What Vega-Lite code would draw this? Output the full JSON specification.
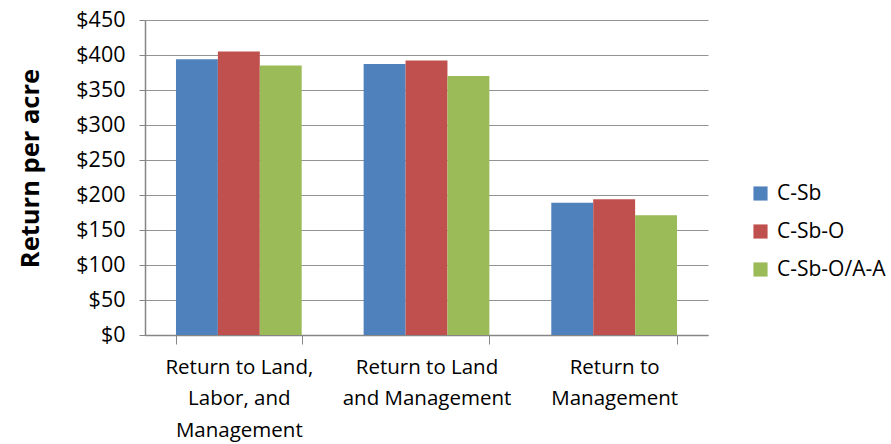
{
  "$schema": "https://vega.github.io/schema/vega-lite/v6.json",
  "width": 563,
  "height": 315,
  "autosize": {"type": "none"},
  "padding": {"left": 145, "top": 20, "right": 183, "bottom": 109},
  "background": "white",
  "data": {
    "values": [
      {"category": "Return to Land, Labor, and Management", "rotation": "C-Sb", "value": 394},
      {"category": "Return to Land, Labor, and Management", "rotation": "C-Sb-O", "value": 405},
      {"category": "Return to Land, Labor, and Management", "rotation": "C-Sb-O/A-A", "value": 385},
      {"category": "Return to Land and Management", "rotation": "C-Sb", "value": 387},
      {"category": "Return to Land and Management", "rotation": "C-Sb-O", "value": 392},
      {"category": "Return to Land and Management", "rotation": "C-Sb-O/A-A", "value": 370},
      {"category": "Return to Management", "rotation": "C-Sb", "value": 189},
      {"category": "Return to Management", "rotation": "C-Sb-O", "value": 194},
      {"category": "Return to Management", "rotation": "C-Sb-O/A-A", "value": 171}
    ]
  },
  "mark": {"type": "bar"},
  "encoding": {
    "x": {
      "field": "category",
      "type": "nominal",
      "sort": null,
      "scale": {"paddingInner": 0.33, "paddingOuter": 0.165},
      "axis": {
        "title": null,
        "labelAngle": 0,
        "labelFont": "Open Sans",
        "labelFontSize": 20.5,
        "labelColor": "black",
        "labelLineHeight": 31.5,
        "labelPadding": 13,
        "labelBaseline": "top",
        "labelExpr": "datum.value == 'Return to Land, Labor, and Management' ? ['Return to Land,', 'Labor, and', 'Management'] : datum.value == 'Return to Land and Management' ? ['Return to Land', 'and Management'] : datum.value == 'Return to Management' ? ['Return to', 'Management'] : ''",
        "tickBand": "extent",
        "tickSize": 9,
        "tickColor": "#868686",
        "domainColor": "#868686",
        "domainWidth": 1.5,
        "labelLimit": 300
      }
    },
    "xOffset": {"field": "rotation", "type": "nominal", "sort": ["C-Sb", "C-Sb-O", "C-Sb-O/A-A"]},
    "y": {
      "field": "value",
      "type": "quantitative",
      "scale": {"domain": [0, 450], "nice": false},
      "axis": {
        "title": "Return per acre",
        "titleFont": "Open Sans",
        "titleFontSize": 25.5,
        "titleFontWeight": "bold",
        "titleColor": "black",
        "titleX": -115,
        "titleY": 148,
        "titleAngle": 270,
        "titleAlign": "center",
        "titleBaseline": "middle",
        "values": [0, 50, 100, 150, 200, 250, 300, 350, 400, 450],
        "format": "$.0f",
        "labelFont": "Open Sans",
        "labelFontSize": 21.5,
        "labelColor": "black",
        "labelPadding": 14,
        "tickSize": 6,
        "tickColor": "#868686",
        "domainColor": "#868686",
        "domainWidth": 1.5,
        "gridColor": "#939393",
        "gridWidth": 1.2
      }
    },
    "color": {
      "field": "rotation",
      "type": "nominal",
      "sort": ["C-Sb", "C-Sb-O", "C-Sb-O/A-A"],
      "scale": {"domain": ["C-Sb", "C-Sb-O", "C-Sb-O/A-A"], "range": ["#4F81BD", "#C0504D", "#9BBB59"]},
      "legend": {
        "title": null,
        "orient": "none",
        "legendX": 605,
        "legendY": 163,
        "symbolType": "square",
        "symbolSize": 200,
        "symbolStrokeWidth": 0,
        "labelFont": "Open Sans",
        "labelFontSize": 21,
        "labelColor": "black",
        "labelOffset": 6,
        "rowPadding": 16,
        "labelLimit": 200
      }
    }
  },
  "config": {"view": {"stroke": null}}
}
